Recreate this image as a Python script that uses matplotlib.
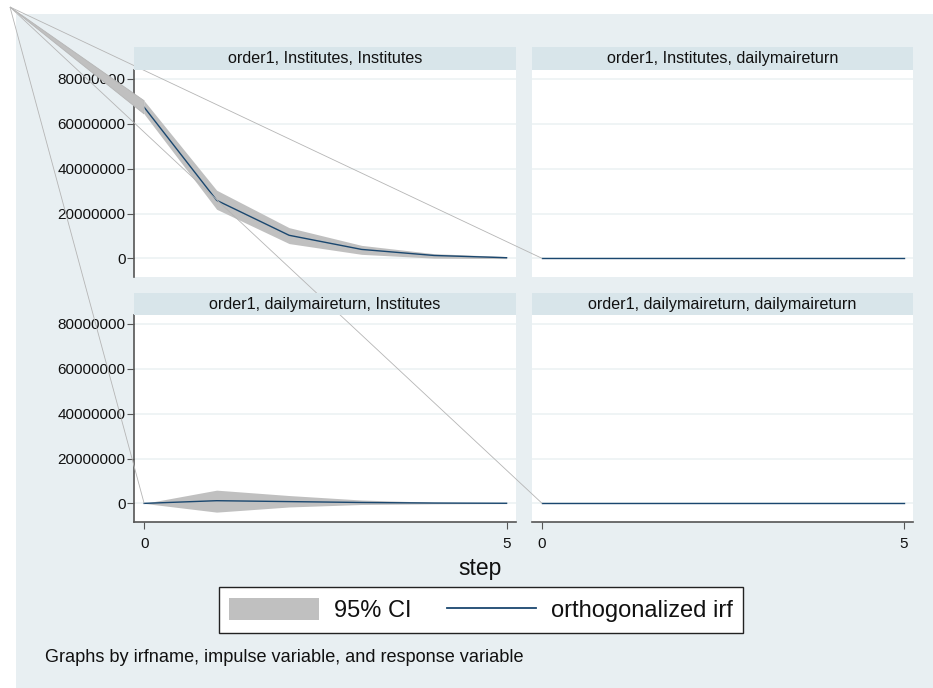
import numpy as np
import matplotlib
matplotlib.use('Agg')
import matplotlib.pyplot as plt
from matplotlib.patches import Rectangle, Polygon, Patch
from matplotlib.lines import Line2D
from matplotlib.ticker import FuncFormatter

matplotlib.rcParams['font.family'] = 'Liberation Sans'

# irf results, order1 (impulse -> response)
steps = [0, 1, 2, 3, 4, 5]
ii_irf = [67.4e6, 25.9e6, 10.3e6, 4.0e6, 1.3e6, 0.3e6]
ii_lo = [64.4e6, 21.9e6, 6.6e6, 1.8e6, 0.1e6, -0.1e6]
ii_hi = [70.3e6, 30.4e6, 13.7e6, 5.8e6, 2.1e6, 0.8e6]
id_irf = [0, 0, 0, 0, 0, 0]
id_lo = [0, 0, 0, 0, 0, 0]
id_hi = [0, 0, 0, 0, 0, 0]
di_irf = [0, 1.2e6, 0.8e6, 0.4e6, 0.15e6, 0.05e6]
di_lo = [0, -3.9e6, -1.6e6, -0.5e6, -0.2e6, -0.1e6]
di_hi = [0, 5.9e6, 3.5e6, 1.5e6, 0.5e6, 0.2e6]
dd_irf = [0, 0, 0, 0, 0, 0]
dd_lo = [0, 0, 0, 0, 0, 0]
dd_hi = [0, 0, 0, 0, 0, 0]
titles = ['order1, Institutes, Institutes', 'order1, Institutes, dailymaireturn',
          'order1, dailymaireturn, Institutes', 'order1, dailymaireturn, dailymaireturn']
yticks = [0, 20000000, 40000000, 60000000, 80000000]
xticks = [0, 5]

W, H = 933, 688
bg = '#e8eff2'
stripc = '#d8e5ea'
gridc = '#ecf2f4'
cic = '#c0c0c0'
navy = '#1a476f'
spc = '#555555'

def px(l, t, r, b):
    return [l / W, 1 - b / H, (r - l) / W, (b - t) / H]

fig = plt.figure(figsize=(W / 100, H / 100), dpi=100)
fig.add_artist(Rectangle((16 / W, 0), 1 - 16 / W, 1 - 14 / H, transform=fig.transFigure,
                         facecolor=bg, edgecolor='none', zorder=-10))

panels = [
    (134, 516, 47, 70, 277, ii_irf, ii_lo, ii_hi, True, False),
    (532, 913, 47, 70, 277, id_irf, id_lo, id_hi, False, False),
    (134, 516, 293, 315, 522, di_irf, di_lo, di_hi, True, True),
    (532, 913, 293, 315, 522, dd_irf, dd_lo, dd_hi, False, True),
]
axes = []
for i, (l, r, st, t, b, irf, lo, hi, showy, showx) in enumerate(panels):
    ax = fig.add_axes(px(l, t, r, b))
    ax.set_facecolor('white')
    ax.fill_between(steps, lo, hi, color=cic, linewidth=0, zorder=2)
    ax.plot(steps, irf, color=navy, linewidth=1.0, zorder=3)
    ax.set_xlim(-0.14, 5.13)
    ax.set_ylim(-8.3e6, 84e6)
    ax.set_yticks(yticks)
    ax.yaxis.set_major_formatter(FuncFormatter(lambda v, p: '{:.0f}'.format(v)))
    ax.yaxis.grid(True, color=gridc, linewidth=1.2)
    ax.set_axisbelow(True)
    for s in ['top', 'right']:
        ax.spines[s].set_visible(False)
    ax.spines['left'].set_visible(showy)
    ax.spines['bottom'].set_visible(showx)
    ax.spines['left'].set_color(spc)
    ax.spines['bottom'].set_color(spc)
    ax.spines['left'].set_linewidth(1.2)
    ax.spines['bottom'].set_linewidth(1.2)
    ax.tick_params(axis='y', left=showy, labelleft=showy, length=5, width=0.8,
                   color=spc, pad=1, labelsize=11, labelcolor='#111111')
    if showx:
        ax.set_xticks(xticks)
        ax.tick_params(axis='x', length=5, width=0.8, color=spc, pad=6,
                       labelsize=11, labelcolor='#111111')
    else:
        ax.set_xticks([])
    sax = fig.add_axes(px(l, st, r, t), zorder=2)
    sax.set_facecolor(stripc)
    sax.set_xticks([])
    sax.set_yticks([])
    for s in sax.spines.values():
        s.set_visible(False)
    sax.text(0.5, 0.5, titles[i], ha='center', va='center', fontsize=11.6,
             color='#111111', transform=sax.transAxes)
    axes.append((ax, lo, hi))

# band paths start from the page origin
corner = fig.transFigure.inverted().transform((10, H - 7))
for ax, lo, hi in axes:
    tr = lambda p: fig.transFigure.inverted().transform(ax.transData.transform(p))
    poly = Polygon([corner, tr((steps[0], hi[0])), tr((steps[0], lo[0]))], closed=True,
                   transform=fig.transFigure, facecolor=cic, edgecolor='#b5b5b5',
                   linewidth=0.6, zorder=1)
    fig.add_artist(poly)

fig.text(480 / W, 1 - 569 / H, 'step', ha='center', va='center', fontsize=16.5, color='#111111')

handles = [Patch(facecolor=cic, edgecolor='none'), Line2D([], [], color=navy, linewidth=1.3)]
leg = fig.legend(handles, ['95% CI', 'orthogonalized irf'], loc='center',
                 bbox_to_anchor=((220 + 742) / 2 / W, 1 - 610 / H), ncol=2, fontsize=17,
                 frameon=True, fancybox=False, edgecolor='#222222', framealpha=1,
                 handlelength=3.8, handleheight=1.1, handletextpad=0.62, columnspacing=1.5,
                 borderpad=0.45, borderaxespad=0)
leg.get_frame().set_linewidth(1.0)
for t in leg.get_texts():
    t.set_color('#111111')

fig.text(45 / W, 1 - 657 / H, 'Graphs by irfname, impulse variable, and response variable',
         ha='left', va='center', fontsize=13.1, color='#111111')

fig.savefig('out.png', dpi=100)
